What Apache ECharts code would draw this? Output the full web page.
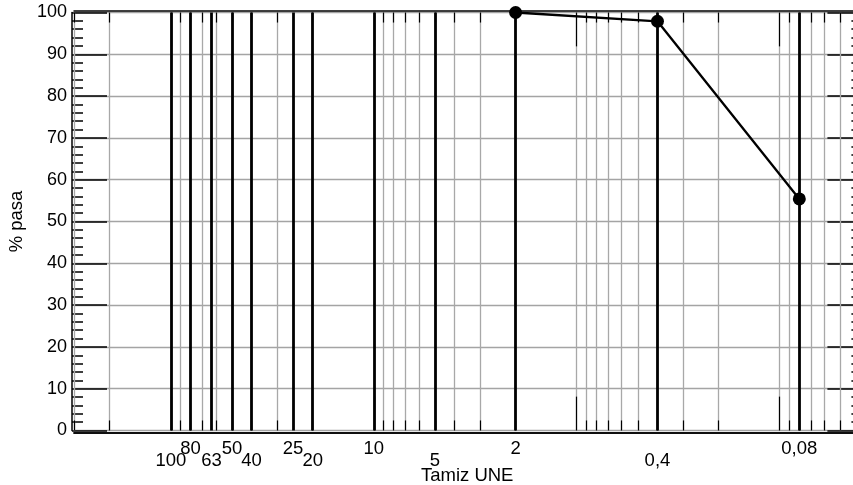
<!DOCTYPE html>
<html>
<head>
<meta charset="utf-8">
<script src="https://cdn.jsdelivr.net/npm/echarts@6/dist/echarts.min.js"></script>
<style>
    html, body { margin: 0; padding: 0; background: #fff; }
    #chart { width: 853px; height: 485px; }
</style>
</head>
<body>
<div id="chart"></div>
<script>
// tamices UNE (mm)
var sieves = [100, 80, 63, 50, 40, 25, 20, 10, 5, 2, 0.4, 0.08];
var labelsUpper = [80, 50, 25, 10, 2, 0.08];
var labelsLower = [100, 63, 40, 20, 5, 0.4];
var decades = [0.1, 1, 10, 100];
var minors = [0.05, 0.06, 0.07, 0.08, 0.09,
    0.2, 0.3, 0.4, 0.5, 0.6, 0.7, 0.8, 0.9,
    2, 3, 4, 5, 6, 7, 8, 9,
    20, 30, 40, 50, 60, 70, 80, 90,
    200, 300];

// curva granulometrica
var passSizes = [2, 0.4, 0.08];
var passPercent = [100, 97.9, 55.4];

var font = 'Arial, "Liberation Sans", sans-serif';

function fmt(v) {
    return String(v).replace('.', ',');
}

function xAx(pos, labels, margin) {
    return {
        type: 'log',
        position: pos,
        offset: 2,
        inverse: true,
        min: 0.04,
        max: 300,
        axisLine: {show: true, onZero: false, lineStyle: {color: '#000', width: 1.5}},
        axisTick: {show: false},
        minorTick: {show: false},
        splitLine: {show: false},
        axisLabel: labels ? {show: true, customValues: labels, margin: margin, color: '#000',
            fontSize: 18.5, fontFamily: font, formatter: fmt} : {show: false}
    };
}

var chart = echarts.init(document.getElementById('chart'));

var xAxes = [
    xAx('bottom', labelsUpper, 6.5),
    xAx('bottom', labelsLower, 19),
    xAx('top', null)
];
xAxes[0].name = 'Tamiz UNE';
xAxes[0].nameLocation = 'middle';
xAxes[0].nameGap = 34;
xAxes[0].nameTextStyle = {color: '#000', fontSize: 18.5, fontFamily: font};

function yAx(pos) {
    return {
        type: 'value',
        position: pos,
        offset: 2,
        min: 0,
        max: 100,
        interval: 10,
        axisLine: {show: true, lineStyle: {color: '#000', width: 1.5}},
        axisTick: {show: true, inside: true, length: 35, lineStyle: {color: '#000', width: 1.5}},
        minorTick: {show: true, splitNumber: 5, length: 11, lineStyle: {color: '#000', width: 1.5}},
        splitLine: {show: pos === 'left', lineStyle: {color: '#a4a4a4', width: 1.4}},
        axisLabel: {show: pos === 'left', margin: 5, color: '#000', fontSize: 18, fontFamily: font}
    };
}

var yAxes = [yAx('left'), yAx('right')];
yAxes[0].name = '% pasa';
yAxes[0].nameLocation = 'middle';
yAxes[0].nameGap = 45;
yAxes[0].nameTextStyle = {color: '#000', fontSize: 18.5, fontFamily: font};

// marcas de los ejes superior e inferior (en % pasa)
function tickSegs(list, len) {
    var segs = [];
    list.forEach(function (v) {
        segs.push([{coord: [v, 100]}, {coord: [v, 100 - len]}]);
        segs.push([{coord: [v, 0]}, {coord: [v, len]}]);
    });
    return segs;
}

var option = {
    animation: false,
    backgroundColor: '#fff',
    grid: {left: 74, top: 12.5, width: 786.4, height: 418, containLabel: false, outerBoundsMode: 'none'},
    xAxis: xAxes,
    yAxis: yAxes,
    series: [{
        name: 'rejilla',
        type: 'line',
        data: [],
        z: 1,
        markLine: {
            silent: true,
            symbol: ['none', 'none'],
            label: {show: false},
            lineStyle: {type: 'solid', color: '#a8a8a8', width: 1.3},
            data: minors.concat(decades).map(function (v) { return {xAxis: v}; })
        }
    }, {
        name: 'marcas',
        type: 'line',
        data: [],
        z: 2,
        markLine: {
            silent: true,
            symbol: ['none', 'none'],
            label: {show: false},
            lineStyle: {type: 'solid', color: '#000', width: 1.2},
            data: tickSegs(minors, 2.4).concat(tickSegs(decades, 8.1))
        }
    }, {
        name: 'tamices',
        type: 'line',
        data: [],
        z: 3,
        markLine: {
            silent: true,
            symbol: ['none', 'none'],
            label: {show: false},
            lineStyle: {type: 'solid', color: '#000', width: 2.8},
            data: sieves.map(function (v) { return {xAxis: v}; })
        }
    }, {
        name: 'pasa',
        type: 'line',
        z: 5,
        data: passSizes.map(function (s, i) { return [s, passPercent[i]]; }),
        symbol: 'circle',
        symbolSize: 13,
        itemStyle: {color: '#000'},
        lineStyle: {color: '#000', width: 2.3}
    }]
};

chart.setOption(option);
</script>
</body>
</html>
